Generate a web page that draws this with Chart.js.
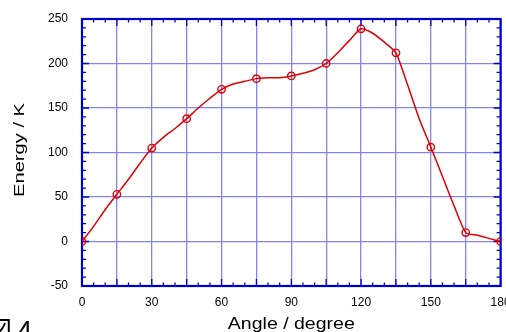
<!DOCTYPE html>
<html>
<head>
<meta charset="utf-8">
<script src="https://cdn.jsdelivr.net/npm/chart.js@4"></script>
<style>
  html, body { margin: 0; padding: 0; background: #fff; }
  #wrap { position: relative; width: 506px; height: 332px; }
</style>
</head>
<body>
<div id="wrap"><canvas id="chart" width="506" height="332"></canvas></div>
<script>
// measured points (markers every 15 degrees)
const angles = [0, 15, 30, 45, 60, 75, 90, 105, 120, 135, 150, 165, 180];
const energies = [0, 53, 105, 138, 171, 183, 186, 200, 239, 212, 106, 10, 0];

// smooth curve every 5 degrees
const curveAngles = [0, 5, 10, 15, 20, 25, 30, 35, 40, 45, 50, 55, 60, 65, 70, 75, 80, 85, 90,
  95, 100, 105, 110, 115, 120, 125, 130, 135, 140, 145, 150, 155, 160, 165, 170, 175, 180];
const curveEnergies = [0, 17, 36, 53, 70, 88, 105, 117, 127, 138, 150, 161, 171, 177, 180, 183, 184, 184, 186,
  189, 193, 200, 212, 226, 239, 234, 224, 212, 176, 138, 106, 73, 40, 10, 7, 3.5, 0];

const xTicks = [0, 30, 60, 90, 120, 150, 180];
const yTicks = [-50, 0, 50, 100, 150, 200, 250];

const axisBlue = '#0000cc';
const gridBlue = '#8484ee';
const red = '#e00000';

// frame + inward tick marks on all four sides
const framePlugin = {
  id: 'frame',
  beforeDatasetsDraw(chart) {
    const { ctx, chartArea: a, scales: { x, y } } = chart;
    ctx.save();
    ctx.strokeStyle = axisBlue;
    ctx.lineWidth = 1.3;
    ctx.beginPath();
    for (let v = 0; v <= 180; v += 5) {
      const px = x.getPixelForValue(v);
      const len = v % 15 === 0 ? 7 : 3.5;
      ctx.moveTo(px, a.bottom); ctx.lineTo(px, a.bottom - len);
      ctx.moveTo(px, a.top); ctx.lineTo(px, a.top + len);
    }
    for (let v = -50; v <= 250; v += 10) {
      const py = y.getPixelForValue(v);
      const len = v % 50 === 0 ? 7 : 4;
      ctx.moveTo(a.left, py); ctx.lineTo(a.left + len, py);
      ctx.moveTo(a.right, py); ctx.lineTo(a.right - len, py);
    }
    ctx.stroke();
    ctx.lineWidth = 2.2;
    ctx.strokeRect(a.left, a.top, a.right - a.left, a.bottom - a.top);
    ctx.restore();
  },
  afterDraw(chart) {
    const { ctx, chartArea: a } = chart;
    ctx.save();
    ctx.fillStyle = '#000';
    // x title, stretched to the width seen in the picture
    ctx.font = '17px "Liberation Sans", Arial, sans-serif';
    ctx.textAlign = 'center';
    ctx.textBaseline = 'alphabetic';
    let t = 'Angle / degree';
    let w = ctx.measureText(t).width;
    ctx.save();
    ctx.translate((a.left + a.right) / 2, 329);
    ctx.scale(127 / w, 1);
    ctx.fillText(t, 0, 0);
    ctx.restore();
    // y title
    ctx.font = '14px "Liberation Sans", Arial, sans-serif';
    t = 'Energy / K';
    w = ctx.measureText(t).width;
    ctx.save();
    ctx.translate(24, 150);
    ctx.rotate(-Math.PI / 2);
    ctx.scale(94 / w, 1);
    ctx.fillText(t, 0, 0);
    ctx.restore();
    // figure label, partly cut off at the left edge like the scan
    ctx.font = '26px "Noto Sans CJK JP", sans-serif';
    ctx.textAlign = 'left';
    ctx.fillText('図 4', -14, 340);
    ctx.restore();
  }
};

const ctx = document.getElementById('chart').getContext('2d');
const chart = new Chart(ctx, {
  type: 'line',
  data: {
    datasets: [
      {
        label: 'curve',
        data: curveAngles.map((a, i) => ({ x: a, y: curveEnergies[i] })),
        borderColor: red,
        borderWidth: 1.5,
        pointRadius: 0,
        tension: 0.2,
        fill: false
      },
      {
        label: 'points',
        data: angles.map((a, i) => ({ x: a, y: energies[i] })),
        showLine: false,
        borderColor: red,
        backgroundColor: 'rgba(0,0,0,0)',
        pointRadius: 3.7,
        pointBorderWidth: 1.4
      }
    ]
  },
  options: {
    responsive: false,
    animation: false,
    devicePixelRatio: 1,
    layout: { padding: { top: 19, right: 5, left: 0, bottom: 0 } },
    plugins: { legend: { display: false }, tooltip: { enabled: false } },
    scales: {
      x: {
        type: 'linear',
        min: 0,
        max: 180,
        afterBuildTicks(scale) {
          const t = [];
          for (let v = 0; v <= 180; v += 15) t.push({ value: v });
          scale.ticks = t;
        },
        afterFit(scale) {
          scale.height = 46;
          scale.paddingLeft = 0;
          scale.paddingRight = 0;
        },
        ticks: {
          autoSkip: false,
          maxRotation: 0,
          padding: 9,
          color: '#000',
          font: { family: '"Liberation Sans", Arial, sans-serif', size: 12 },
          callback: v => (xTicks.includes(v) ? String(v) : '')
        },
        grid: { color: gridBlue, lineWidth: 1.3, drawTicks: false },
        border: { display: false }
      },
      y: {
        min: -50,
        max: 250,
        afterBuildTicks(scale) {
          scale.ticks = yTicks.map(v => ({ value: v }));
        },
        afterFit(scale) {
          scale.width = 82;
          scale.paddingTop = 0;
          scale.paddingBottom = 0;
        },
        ticks: {
          padding: 14,
          color: '#000',
          font: { family: '"Liberation Sans", Arial, sans-serif', size: 12 }
        },
        grid: { color: gridBlue, lineWidth: 1.3, drawTicks: false },
        border: { display: false }
      }
    }
  },
  plugins: [framePlugin]
});
</script>
</body>
</html>
